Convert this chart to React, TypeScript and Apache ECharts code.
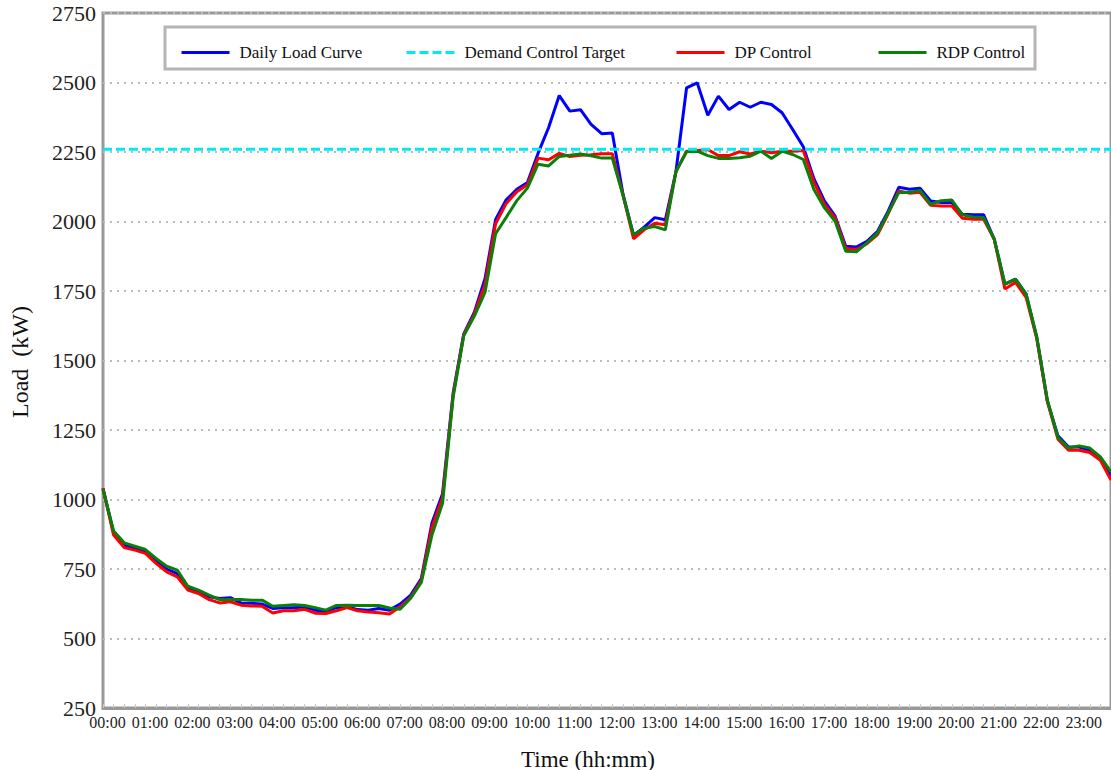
import React, { useEffect, useRef } from "react";
import * as echarts from "echarts";

// 15-minute time slots, 00:00 .. 23:45
const timeSlots: string[] = Array.from({ length: 96 }, (_, i) => {
  const h = Math.floor(i / 4);
  const m = (i % 4) * 15;
  return `${String(h).padStart(2, "0")}:${String(m).padStart(2, "0")}`;
});

const yTicks = [250, 500, 750, 1000, 1250, 1500, 1750, 2000, 2250, 2500, 2750];

const demandTarget = 2260;

const dailyLoad = [
  1040, 880, 835, 825, 812, 778, 750, 733, 683, 669, 650, 644,
  647, 628, 627, 624, 608, 611, 611, 613, 602, 598, 611, 614,
  604, 602, 608, 602, 624, 656, 716, 915, 1021, 1383, 1596, 1674,
  1794, 2007, 2078, 2116, 2140, 2245, 2338, 2453, 2397, 2402, 2349, 2316,
  2318, 2100, 1950, 1980, 2014, 2006, 2180, 2481, 2499, 2382, 2451, 2403,
  2429, 2411, 2429, 2421, 2391, 2331, 2269, 2154, 2073, 2019, 1911, 1908,
  1929, 1965, 2037, 2123, 2116, 2120, 2074, 2068, 2068, 2026, 2024, 2024,
  1936, 1775, 1793, 1739, 1583, 1355, 1229, 1189, 1189, 1177, 1150, 1085,
];

const dpControl = [
  1040, 872, 827, 818, 806, 770, 740, 722, 674, 662, 640, 628,
  632, 620, 617, 616, 592, 600, 600, 605, 591, 590, 600, 611,
  600, 595, 593, 588, 614, 648, 709, 900, 1007, 1376, 1593, 1667,
  1773, 1992, 2065, 2107, 2132, 2228, 2222, 2245, 2234, 2238, 2240, 2244,
  2244, 2096, 1938, 1970, 1994, 1988, 2180, 2253, 2255, 2259, 2237, 2237,
  2251, 2243, 2253, 2247, 2253, 2253, 2255, 2142, 2061, 2013, 1903, 1899,
  1920, 1953, 2028, 2110, 2102, 2105, 2058, 2056, 2056, 2012, 2008, 2008,
  1936, 1757, 1781, 1727, 1580, 1352, 1217, 1177, 1177, 1169, 1141, 1070,
];

const rdpControl = [
  1036, 887, 844, 832, 820, 788, 760, 746, 688, 674, 656, 640,
  640, 640, 638, 638, 616, 619, 621, 619, 611, 602, 619, 620,
  619, 619, 619, 610, 605, 645, 702, 872, 986, 1369, 1589, 1660,
  1745, 1956, 2015, 2075, 2120, 2206, 2200, 2234, 2238, 2243, 2236, 2228,
  2228, 2095, 1952, 1976, 1982, 1970, 2180, 2251, 2253, 2237, 2227, 2227,
  2229, 2235, 2253, 2227, 2253, 2241, 2223, 2115, 2049, 2001, 1893, 1891,
  1923, 1959, 2031, 2104, 2104, 2112, 2062, 2075, 2077, 2024, 2016, 2014,
  1936, 1775, 1793, 1739, 1586, 1358, 1223, 1185, 1193, 1185, 1153, 1100,
];

const FONT = "'Liberation Serif', 'Times New Roman', serif";

export default function App() {
  const ref = useRef<HTMLDivElement>(null);

  useEffect(() => {
    if (!ref.current) return;
    const chart = echarts.init(ref.current, null, { renderer: "svg" });

    const legendCommon = {
      padding: 0,
      itemWidth: 48,
      itemHeight: 14,
      top: 44,
      selectedMode: false,
      itemStyle: { opacity: 0 },
      lineStyle: { width: 3 },
      textStyle: {
        fontFamily: FONT,
        fontSize: 17,
        color: "#111",
        padding: [0, 0, 0, 5],
      },
    };

    chart.setOption({
      animation: false,
      backgroundColor: "#ffffff",
      grid: {
        left: 103,
        top: 13,
        bottom: 62,
        right: -7,
        show: true,
        borderColor: "#999",
        borderWidth: 3,
        backgroundColor: "#fff",
      },
      legend: [
        { ...legendCommon, left: 180, data: ["Daily Load Curve"] },
        { ...legendCommon, left: 405, data: ["Demand Control Target"] },
        { ...legendCommon, left: 675, data: ["DP Control"] },
        { ...legendCommon, left: 877, data: ["RDP Control"] },
      ],
      graphic: [
        {
          type: "rect",
          shape: { x: 165, y: 27, width: 870, height: 42 },
          style: { fill: "#fff", stroke: "#b5b5b5", lineWidth: 3 },
          z: 1,
        },
        {
          type: "text",
          x: 20,
          y: 362,
          rotation: Math.PI / 2,
          style: {
            text: "Load  (kW)",
            fontFamily: FONT,
            fontSize: 24,
            fill: "#111",
            align: "center",
            verticalAlign: "middle",
          },
        },
        {
          type: "text",
          x: 588,
          y: 759,
          style: {
            text: "Time (hh:mm)",
            fontFamily: FONT,
            fontSize: 23,
            fill: "#111",
            align: "center",
            verticalAlign: "middle",
          },
        },
      ],
      xAxis: {
        type: "category",
        data: timeSlots,
        boundaryGap: false,
        axisLine: { show: true, lineStyle: { color: "#999", width: 3 } },
        axisTick: {
          show: true,
          inside: true,
          length: 4,
          interval: 0,
          lineStyle: { color: "#c8c8c8", width: 1 },
        },
        axisLabel: {
          interval: 3,
          margin: 6,
          padding: [0, 0, 0, 9],
          fontFamily: FONT,
          fontSize: 16,
          color: "#222",
        },
        splitLine: { show: false },
      },
      yAxis: {
        type: "value",
        min: yTicks[0],
        max: yTicks[yTicks.length - 1],
        interval: 250,
        axisLine: { show: false },
        axisTick: { show: false },
        axisLabel: {
          margin: 7,
          fontFamily: FONT,
          fontSize: 22,
          color: "#222",
          formatter: (v: number) => String(v),
        },
        splitLine: {
          show: true,
          lineStyle: { color: "#bbbbbb", width: 2, type: [2, 5] },
        },
      },
      series: [
        {
          name: "Daily Load Curve",
          type: "line",
          data: dailyLoad,
          symbol: "none",
          lineStyle: { color: "#0000ff", width: 3 },
          itemStyle: { color: "#0000ff" },
          z: 2,
        },
        {
          name: "DP Control",
          type: "line",
          data: dpControl,
          symbol: "none",
          lineStyle: { color: "#ff0000", width: 3 },
          itemStyle: { color: "#ff0000" },
          z: 3,
        },
        {
          name: "RDP Control",
          type: "line",
          data: rdpControl,
          symbol: "none",
          lineStyle: { color: "#0a800a", width: 3 },
          itemStyle: { color: "#0a800a" },
          z: 4,
        },
        {
          name: "Demand Control Target",
          type: "line",
          data: [
            [timeSlots[0], demandTarget],
            [timeSlots[timeSlots.length - 1], demandTarget],
          ],
          symbol: "none",
          lineStyle: { color: "#00eaf5", width: 3, type: [9, 4] },
          itemStyle: { color: "#00eaf5" },
          z: 5,
        },
      ],
    });

    return () => chart.dispose();
  }, []);

  return (
    <div
      ref={ref}
      style={{ position: "absolute", left: 0, top: 0, width: 1111, height: 770 }}
    />
  );
}
